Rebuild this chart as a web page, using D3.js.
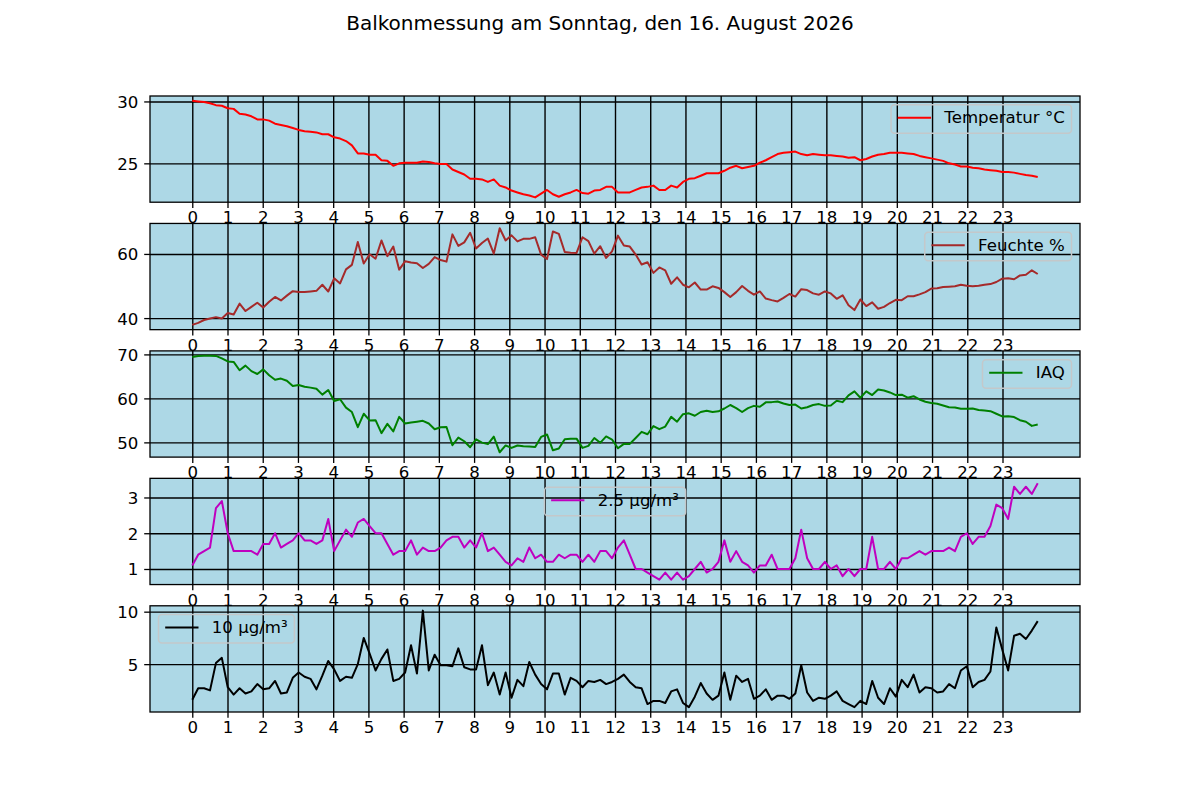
<!DOCTYPE html>
<html>
<head>
<meta charset="utf-8">
<script src="https://cdnjs.cloudflare.com/ajax/libs/d3/7.8.5/d3.min.js"></script>
<style>
  body { margin: 0; background: #ffffff; }
  text { font-family: "DejaVu Sans", sans-serif; fill: #000; }
</style>
</head>
<body>
<div id="vis"></div>
<script>
const w = 1200;
const h = 800;
const title = "Balkonmessung am Sonntag, den 16. August 2026";

// 144 Messungen gleichmäßig über den Tag (0 bis 24 Uhr)
const sampleCount = 144;
const times = d3.range(sampleCount).map(i => i * 24 / (sampleCount - 1));
const hourTicks = [0, 1, 2, 3, 4, 5, 6, 7, 8, 9, 10, 11, 12, 13, 14, 15, 16, 17, 18, 19, 20, 21, 22, 23];

const temperatur = [
  30.05, 30.0, 29.95, 29.85, 29.7, 29.65, 29.45, 29.4, 29.0, 28.95,
  28.8, 28.55, 28.55, 28.45, 28.2, 28.1, 28.0, 27.85, 27.7, 27.6,
  27.55, 27.5, 27.35, 27.35, 27.1, 27.0, 26.8, 26.45, 25.8, 25.8,
  25.7, 25.7, 25.25, 25.2, 24.8, 25.0, 25.05, 25.05, 25.05, 25.15,
  25.1, 25.0, 24.95, 24.95, 24.5, 24.3, 24.1, 23.75, 23.75, 23.7,
  23.5, 23.7, 23.2, 23.05, 22.8, 22.65, 22.5, 22.4, 22.25, 22.55,
  22.85, 22.5, 22.3, 22.5, 22.65, 22.85, 22.6, 22.55, 22.8, 22.85,
  23.1, 23.1,
  22.65, 22.65, 22.65, 22.85, 23.05, 23.1, 23.2, 22.85, 22.85, 23.2,
  23.05, 23.5, 23.75, 23.8, 24.0, 24.2, 24.2, 24.2, 24.4, 24.65,
  24.8, 24.6, 24.7, 24.8, 25.05, 25.25, 25.5, 25.75, 25.85, 25.9,
  25.95, 25.75, 25.65, 25.75, 25.7, 25.65, 25.65, 25.6, 25.55, 25.45,
  25.5, 25.25, 25.35, 25.55, 25.7, 25.75, 25.85, 25.85, 25.85, 25.8,
  25.75, 25.6, 25.5, 25.4, 25.3, 25.2, 25.0, 24.9, 24.75, 24.75,
  24.65, 24.6, 24.5, 24.45, 24.4, 24.3, 24.3, 24.25, 24.15, 24.05,
  24.0, 23.9
];
const feuchte = [
  37.9, 38.5, 39.4, 39.9, 40.3, 39.9, 41.6, 41.1, 44.5, 42.2,
  43.5, 44.8, 43.3, 45.1, 46.6, 45.5, 47.0, 48.4, 48.1, 48.1,
  48.3, 48.5, 50.4, 48.3, 52.4, 50.8, 55.2, 56.6, 63.75, 57.0,
  59.9, 58.5, 64.2, 59.3, 62.3, 55.1, 57.7, 57.3, 57.1, 55.6,
  56.9, 59.0, 58.1, 57.6, 66.1, 62.5, 63.6, 66.6, 61.7, 63.4,
  64.8, 60.1, 68.0, 64.2, 65.8, 63.9, 64.7, 64.7, 65.2, 59.8,
  58.4, 67.0, 66.25, 60.6, 60.4, 60.3, 65.2, 64.0, 60.1, 62.4,
  58.75, 60.8,
  65.7, 62.6, 62.3, 59.8, 56.7, 57.4, 54.1, 55.8, 54.9, 50.7,
  52.7, 50.4, 49.6, 51.1, 48.9, 48.9, 49.9, 49.4, 48.1, 46.6,
  48.1, 50.0, 48.5, 47.3, 48.3, 46.1, 45.6, 45.2, 46.3, 47.5,
  46.7, 49.0, 48.75, 47.7, 47.3, 48.3, 47.7, 46.0, 47.1, 44.0,
  42.5, 45.8, 43.75, 44.9, 42.9, 43.5, 44.7, 45.7, 45.6, 46.8,
  46.8, 47.4, 48.1, 49.2, 49.3, 49.7, 49.8, 49.9, 50.4, 50.1,
  49.9, 50.1, 50.4, 50.6, 51.25, 52.3, 52.4, 52.1, 53.3, 53.5,
  54.9, 53.75
];
const iaq = [
  69.4, 69.65, 69.7, 69.7, 69.65, 69.1, 68.4, 68.3, 66.4, 67.45,
  66.2, 65.55, 66.6, 65.25, 64.25, 64.5, 64.0, 62.8, 63.05, 62.65,
  62.45, 62.2, 60.85, 61.9, 59.4, 59.8, 57.9, 56.9, 53.45, 56.5,
  55.0, 55.05, 52.1, 54.2, 52.5, 55.8, 54.3, 54.5, 54.7, 54.9,
  54.3, 53.0, 53.45, 53.5, 49.35, 51.1, 50.25, 48.9, 50.7, 49.95,
  49.6, 51.3, 47.75, 49.3, 48.75, 49.3, 49.1, 49.05, 48.95, 51.25,
  51.8, 48.2, 48.6, 50.7, 50.8, 50.85, 48.75, 49.2, 51.0, 49.9,
  51.35, 50.65,
  48.65, 49.65, 49.65, 51.0, 52.4, 51.85, 53.7, 53.0, 53.6, 55.8,
  54.7, 56.4, 56.6, 56.05, 56.9, 57.2, 56.9, 57.05, 57.7, 58.5,
  57.8, 56.9, 57.8, 58.3, 58.1, 59.1, 59.15, 59.3, 58.85, 58.5,
  58.6, 57.7, 58.0, 58.5, 58.7, 58.3, 58.4, 59.45, 59.15, 60.7,
  61.6, 60.15, 61.6, 60.75, 62.0, 61.8, 61.35, 60.75, 60.85, 60.15,
  60.5, 59.75, 59.25, 58.95, 58.8, 58.4, 58.0, 57.95, 57.65, 57.65,
  57.7, 57.35, 57.25, 57.1, 56.5, 55.9, 55.95, 55.75, 55.05, 54.7,
  53.75, 54.05
];
const pm25 = [
  1.1, 1.4, 1.5, 1.6, 2.7, 2.9, 2.0, 1.5, 1.5, 1.5,
  1.5, 1.4, 1.7, 1.7, 2.0, 1.6, 1.7, 1.8, 2.0, 1.8,
  1.8, 1.7, 1.8, 2.4, 1.5, 1.8, 2.1, 1.9, 2.3, 2.4,
  2.2, 2.0, 2.0, 1.7, 1.4, 1.5, 1.5, 1.8, 1.4, 1.6,
  1.5, 1.5, 1.6, 1.8, 1.9, 1.9, 1.6, 1.8, 1.6, 2.0,
  1.5, 1.6, 1.4, 1.2, 1.1, 1.3, 1.2, 1.6, 1.3, 1.4,
  1.2, 1.2, 1.4, 1.3, 1.4, 1.4, 1.2, 1.4, 1.2, 1.5,
  1.5, 1.3,
  1.6, 1.8, 1.4, 1.0, 1.0, 0.9, 0.8, 0.7, 0.9, 0.7,
  0.9, 0.7, 0.8, 1.0, 1.2, 0.9, 1.0, 1.2, 1.8, 1.2,
  1.5, 1.2, 1.1, 0.9, 1.1, 1.1, 1.4, 1.0, 1.0, 1.0,
  1.3, 2.1, 1.3, 1.0, 1.0, 1.2, 1.0, 1.1, 0.8, 1.0,
  0.8, 1.0, 1.0, 1.9, 1.0, 1.0, 1.2, 1.0, 1.3, 1.3,
  1.4, 1.5, 1.4, 1.5, 1.5, 1.5, 1.6, 1.5, 1.9, 2.0,
  1.7, 1.9, 1.9, 2.2, 2.8, 2.7, 2.4, 3.3, 3.1, 3.3,
  3.1, 3.4
];
const pm10 = [
  1.6, 2.7, 2.7, 2.5, 5.1, 5.6, 2.8, 2.1, 2.7, 2.2,
  2.4, 3.1, 2.6, 2.7, 3.4, 2.2, 2.3, 3.7, 4.2, 3.8,
  3.6, 2.6, 3.9, 5.3, 4.5, 3.4, 3.8, 3.7, 5.0, 7.5,
  6.0, 4.4, 5.5, 6.4, 3.4, 3.6, 4.2, 6.8, 4.1, 10.1,
  4.4, 5.9, 4.9, 4.9, 4.8, 6.5, 4.7, 4.5, 4.5, 6.8,
  3.0, 4.2, 2.1, 4.2, 1.8, 3.5, 2.9, 5.2, 4.0, 3.1,
  2.6, 4.1, 4.1, 2.1, 3.7, 3.4, 2.8, 3.4, 3.3, 3.5,
  3.1, 3.3,
  3.6, 4.0, 3.3, 2.8, 2.7, 1.2, 1.5, 1.5, 1.3, 2.4,
  2.6, 1.3, 0.9, 1.9, 3.2, 2.2, 1.6, 2.0, 4.2, 1.6,
  3.9, 3.3, 3.6, 1.7, 2.0, 2.6, 1.6, 2.0, 2.0, 1.7,
  2.2, 4.9, 2.3, 1.5, 1.8, 1.7, 2.0, 2.4, 1.5, 1.2,
  0.9, 1.5, 1.2, 3.4, 1.8, 1.2, 2.7, 1.9, 3.5, 2.8,
  4.0, 2.3, 2.8, 2.7, 2.3, 2.4, 3.1, 2.7, 4.4, 4.8,
  2.8, 3.3, 3.5, 4.3, 8.5, 6.4, 4.4, 7.7, 7.9, 7.4,
  8.2, 9.1
];

const seriesLabels = ["Temperatur °C", "Feuchte %", "IAQ", "2.5 µg/m³", "10 µg/m³"];
const seriesColors = ["#ff0000", "#a52a2a", "#008000", "#bf00bf", "#000000"];
const seriesTicks = [[25, 30], [40, 60], [50, 60, 70], [1, 2, 3], [5, 10]];
const legendPlaces = ["right", "right", "right", "center", "left"];
const seriesValues = [temperatur, feuchte, iaq, pm25, pm10];

const axLeft = 150, axRight = 1080, axTop = 96, axBottom = 712;
const hspace = 0.2;
const rows = seriesValues.length;
const axH = (axBottom - axTop) / (rows + (rows - 1) * hspace);
const gap = axH * hspace;
const fontSize = 16.6;
const tickLen = 5.8;

const svg = d3.select("#vis")
  .append("svg")
  .attr("width", w)
  .attr("height", h);

svg.append("text")
  .attr("x", w / 2)
  .attr("y", 30)
  .attr("text-anchor", "middle")
  .style("font-size", "20px")
  .text(title);

// x wie bei matplotlib mit 5% Rand
const xExt = d3.extent(times);
const xPad = (xExt[1] - xExt[0]) * 0.05;
const xScale = d3.scaleLinear().domain([xExt[0] - xPad, xExt[1] + xPad]).range([axLeft, axRight]);

seriesValues.forEach((vals, k) => {
  const y0 = axTop + k * (axH + gap);
  const y1 = y0 + axH;
  const ext = d3.extent(vals);
  const pad = (ext[1] - ext[0]) * 0.05;
  const yScale = d3.scaleLinear().domain([ext[0] - pad, ext[1] + pad]).range([y1, y0]);
  const g = svg.append("g");

  g.append("rect")
    .attr("x", axLeft).attr("y", y0)
    .attr("width", axRight - axLeft).attr("height", axH)
    .attr("fill", "#add8e6");

  // Gitter
  const xGrid = d3.axisBottom(xScale).tickValues(hourTicks).tickSize(-axH).tickFormat("");
  const yGrid = d3.axisLeft(yScale).tickValues(seriesTicks[k]).tickSize(-(axRight - axLeft)).tickFormat("");
  g.append("g").attr("transform", `translate(0,${y1})`).call(xGrid)
    .call(a => a.select(".domain").remove())
    .selectAll("line").attr("stroke", "#000").attr("stroke-width", 1.4);
  g.append("g").attr("transform", `translate(${axLeft},0)`).call(yGrid)
    .call(a => a.select(".domain").remove())
    .selectAll("line").attr("stroke", "#000").attr("stroke-width", 1.4);

  g.append("path")
    .datum(vals)
    .attr("fill", "none")
    .attr("stroke", seriesColors[k])
    .attr("stroke-width", 2)
    .attr("stroke-linejoin", "round")
    .attr("d", d3.line().x((d, i) => xScale(times[i])).y(d => yScale(d)));

  // Achsen mit Beschriftung
  const xLab = d3.axisBottom(xScale).tickValues(hourTicks).tickSize(tickLen).tickFormat(d3.format("d"));
  const gx = g.append("g").attr("transform", `translate(0,${y1})`).call(xLab);
  gx.select(".domain").remove();
  gx.selectAll("line").attr("stroke", "#000").attr("stroke-width", 1.3);
  gx.selectAll("text").attr("fill", "#000").attr("font-size", null).style("font-size", fontSize + "px")
    .attr("font-family", null).attr("dy", null).attr("y", 21);

  const yLab = d3.axisLeft(yScale).tickValues(seriesTicks[k]).tickSize(tickLen).tickPadding(5.8).tickFormat(d3.format("d"));
  const gy = g.append("g").attr("transform", `translate(${axLeft},0)`).call(yLab);
  gy.select(".domain").remove();
  gy.selectAll("line").attr("stroke", "#000").attr("stroke-width", 1.3);
  gy.selectAll("text").attr("fill", "#000").style("font-size", fontSize + "px")
    .attr("font-family", null).attr("dy", null).attr("y", 6);

  g.append("rect")
    .attr("x", axLeft).attr("y", y0)
    .attr("width", axRight - axLeft).attr("height", axH)
    .attr("fill", "none").attr("stroke", "#000").attr("stroke-width", 1.3);

  // Legende
  const lg = g.append("g");
  const frame = lg.append("rect");
  const txt = lg.append("text")
    .style("font-size", fontSize + "px")
    .text(seriesLabels[k]);
  const tw = txt.node().getComputedTextLength();
  const bw = 6.7 + 33.3 + 13.3 + tw + 6.7;
  const bh = 28.5;
  let bx;
  if (legendPlaces[k] === "right") bx = axRight - 8.5 - bw;
  else if (legendPlaces[k] === "left") bx = axLeft + 8.5;
  else bx = (axLeft + axRight) / 2 - bw / 2;
  const by = y0 + 8.8;
  frame.attr("x", bx).attr("y", by).attr("width", bw).attr("height", bh)
    .attr("rx", 3.5)
    .attr("fill", "none").attr("stroke", "#c4c8ca").attr("stroke-width", 1.5);
  lg.append("line")
    .attr("x1", bx + 6.7).attr("x2", bx + 40)
    .attr("y1", by + 13).attr("y2", by + 13)
    .attr("stroke", seriesColors[k]).attr("stroke-width", 2);
  txt.attr("x", bx + 53.3).attr("y", by + 18.6);
});
</script>
</body>
</html>
